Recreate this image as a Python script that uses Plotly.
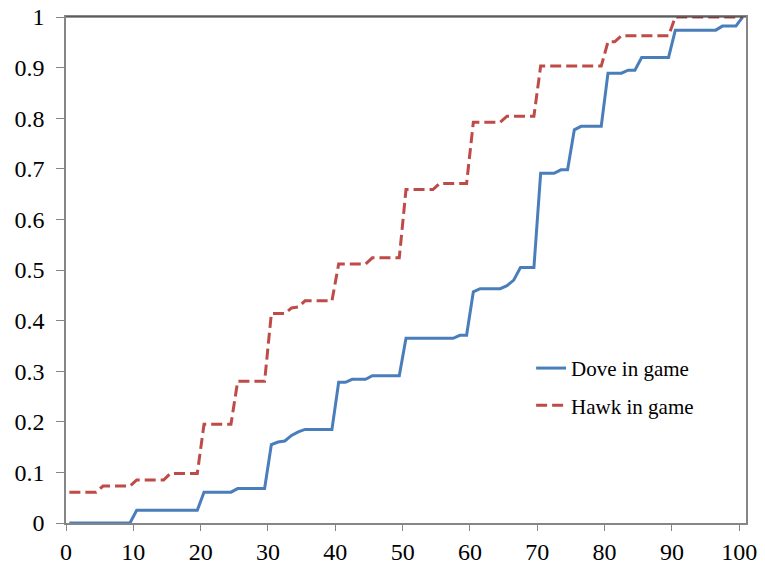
import plotly.graph_objects as go

# Percentile bins (0..100); points are drawn at bin centres
bins = list(range(101))

dove = [
    0, 0, 0, 0, 0, 0, 0, 0, 0, 0,
    0.025, 0.025, 0.025, 0.025, 0.025, 0.025, 0.025, 0.025, 0.025, 0.025,
    0.061, 0.061, 0.061, 0.061, 0.061, 0.068, 0.068, 0.068, 0.068, 0.068,
    0.155, 0.160, 0.162, 0.173, 0.180, 0.185, 0.185, 0.185, 0.185, 0.185,
    0.278, 0.278, 0.284, 0.284, 0.284, 0.291, 0.291, 0.291, 0.291, 0.291,
    0.365, 0.365, 0.365, 0.365, 0.365, 0.365, 0.365, 0.365, 0.371, 0.371,
    0.457, 0.463, 0.463, 0.463, 0.463, 0.469, 0.480, 0.505, 0.505, 0.505,
    0.691, 0.691, 0.691, 0.698, 0.698, 0.777, 0.784, 0.784, 0.784, 0.784,
    0.889, 0.889, 0.889, 0.895, 0.895, 0.920, 0.920, 0.920, 0.920, 0.920,
    0.974, 0.974, 0.974, 0.974, 0.974, 0.974, 0.974, 0.982, 0.982, 0.982,
    1.0,
]

hawk = [
    0.061, 0.061, 0.061, 0.061, 0.061, 0.073, 0.073, 0.073, 0.073, 0.073,
    0.085, 0.085, 0.085, 0.085, 0.085, 0.098, 0.098, 0.098, 0.098, 0.098,
    0.195, 0.195, 0.195, 0.195, 0.195, 0.280, 0.280, 0.280, 0.280, 0.280,
    0.414, 0.414, 0.414, 0.425, 0.427, 0.439, 0.439, 0.439, 0.439, 0.439,
    0.512, 0.512, 0.512, 0.512, 0.512, 0.524, 0.524, 0.524, 0.524, 0.524,
    0.659, 0.659, 0.659, 0.659, 0.659, 0.671, 0.671, 0.671, 0.671, 0.671,
    0.792, 0.792, 0.792, 0.792, 0.792, 0.804, 0.804, 0.804, 0.804, 0.804,
    0.903, 0.903, 0.903, 0.903, 0.903, 0.903, 0.903, 0.903, 0.903, 0.903,
    0.951, 0.951, 0.963, 0.963, 0.963, 0.963, 0.963, 0.963, 0.963, 0.963,
    1.0, 1.0, 1.0, 1.0, 1.0, 1.0, 1.0, 1.0, 1.0, 1.0,
    1.0,
]

series_names = ["Dove in game", "Hawk in game"]

x_centres = [b + 0.5 for b in bins]

FONT = "Liberation Serif, Times New Roman, serif"

fig = go.Figure()
fig.add_trace(go.Scatter(
    x=x_centres, y=dove, mode="lines", name=series_names[0],
    line=dict(color="#4A7EBB", width=3), legendgroup="a",
))
fig.add_trace(go.Scatter(
    x=x_centres, y=hawk, mode="lines", name=series_names[1],
    line=dict(color="#BE4B48", width=3, dash="11px,5px"), legendgroup="b",
))

# page body adds an 8px offset; margins compensate so the plot area
# lands at left 66, top 17, right 746, bottom 523 in the window
fig.update_layout(
    width=765, height=566,
    margin=dict(l=58, r=27, t=9, b=51, autoexpand=False),
    paper_bgcolor="white", plot_bgcolor="white",
    font=dict(family=FONT, size=24, color="black"),
    showlegend=True,
    legend=dict(
        x=0.684, y=0.346, xanchor="left", yanchor="top",
        font=dict(family=FONT, size=21, color="black"),
        bgcolor="rgba(0,0,0,0)", traceorder="grouped", tracegroupgap=7,
    ),
    xaxis=dict(
        range=[0, 101], tick0=0, dtick=10, showgrid=False, zeroline=False,
        showline=True, linecolor="#868686", linewidth=1.5, mirror=True,
        ticks="outside", ticklen=6, tickcolor="#868686", tickwidth=1,
        ticklabelstandoff=0, automargin=False, ticklabeloverflow="allow",
    ),
    yaxis=dict(
        range=[0, 1], tick0=0, dtick=0.1, showgrid=False, zeroline=False,
        showline=True, linecolor="#868686", linewidth=1.5, mirror=True,
        ticks="outside", ticklen=8, tickcolor="#868686", tickwidth=1,
        ticklabelstandoff=7, automargin=False, ticklabeloverflow="allow",
    ),
    shapes=[dict(type="line", xref="paper", yref="paper", x0=0, x1=1, y0=1, y1=1,
                 line=dict(color="#333333", width=1.2))],
)

fig.write_html("out.html")
